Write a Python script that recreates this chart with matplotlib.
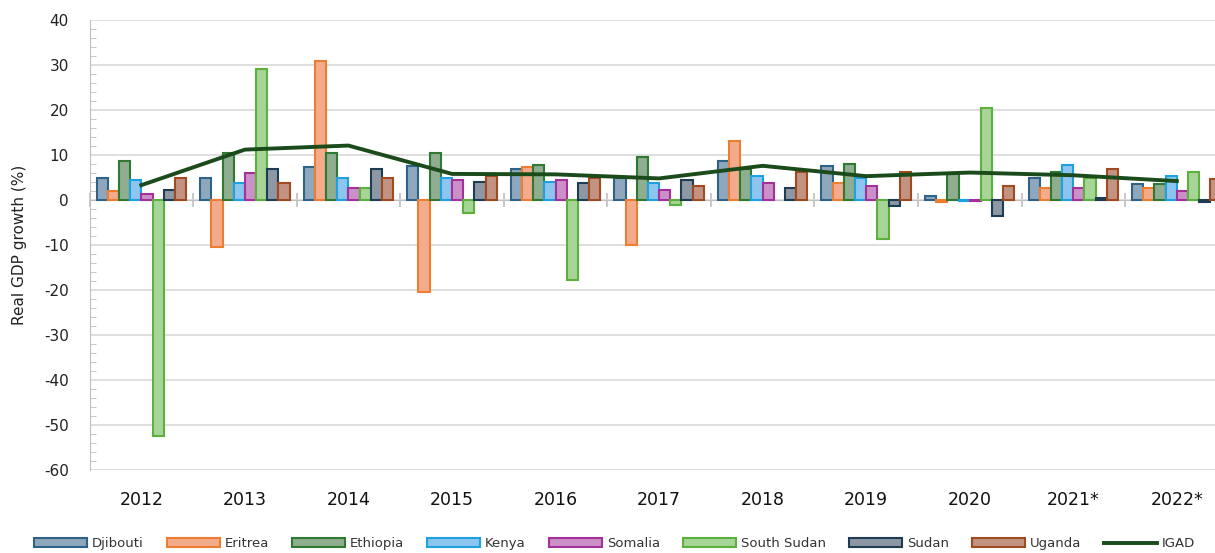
import matplotlib
matplotlib.use('Agg')
import matplotlib.pyplot as plt
import numpy as np

plt.rcParams['axes.unicode_minus'] = False

years = ['2012', '2013', '2014', '2015', '2016', '2017', '2018', '2019', '2020', '2021*', '2022*']
countries = ['Djibouti', 'Eritrea', 'Ethiopia', 'Kenya', 'Somalia', 'South Sudan', 'Sudan', 'Uganda']

djibouti = [4.8, 5.0, 7.3, 7.6, 6.8, 4.8, 8.7, 7.6, 1.0, 5.0, 3.6]
eritrea = [1.9, -10.5, 30.9, -20.4, 7.3, -10.1, 13.1, 3.7, -0.5, 2.7, 2.7]
ethiopia = [8.7, 10.4, 10.4, 10.4, 7.8, 9.5, 6.8, 8.1, 6.0, 6.3, 3.6]
kenya = [4.4, 3.7, 5.0, 5.0, 4.1, 3.7, 5.4, 4.8, -0.3, 7.8, 5.4]
somalia = [1.3, 5.9, 2.6, 4.4, 4.4, 2.2, 3.7, 3.1, -0.3, 2.7, 1.9]
south_sudan = [-52.4, 29.1, 2.6, -2.8, -17.8, -1.0, np.nan, -8.7, 20.4, 5.0, 6.3]
sudan = [2.2, 6.8, 6.8, 4.1, 3.7, 4.4, 2.6, -1.4, -3.6, 0.4, -0.5]
uganda = [5.0, 3.7, 5.0, 5.3, 5.0, 3.1, 6.3, 6.3, 3.1, 6.8, 4.6]
igad = [3.3, 11.2, 12.1, 5.8, 5.7, 4.8, 7.6, 5.3, 6.1, 5.5, 4.2]

series = [djibouti, eritrea, ethiopia, kenya, somalia, south_sudan, sudan, uganda]
fills = ['#8FA7BD', '#F4AB8C', '#8FAD8F', '#8CC6EE', '#CC90C8', '#A7D597', '#8D98A4', '#C39382']
edges = ['#2F6288', '#ED7D31', '#2E7A33', '#1FA0E0', '#A4309C', '#5CB03C', '#1F3C55', '#A24A1F']

fig = plt.figure(figsize=(12.15, 5.53), dpi=100)
ax = fig.add_axes([0.0737, 0.1501, 0.9375, 0.8137])

x = np.arange(len(years))
w = 0.108
handles = []
for j, (vals, fc, ec, name) in enumerate(zip(series, fills, edges, countries)):
    b = ax.bar(x + (j - 3.5) * w, vals, width=w, color=fc, edgecolor=ec, linewidth=1.5,
               label=name, zorder=3)
    handles.append(b)

ln, = ax.plot(x, igad, color='#1B4A1B', linewidth=2.8, label='IGAD', zorder=4)
handles.append(ln)

ax.set_xlim(-0.5, len(years) - 0.5)
ax.set_ylim(-60, 40)
ax.set_yticks(np.arange(-60, 41, 10))
ax.set_yticks(np.arange(-60, 41, 2), minor=True)
ax.yaxis.grid(True, which='major', color='#D9D9D9', linewidth=1.2, zorder=0)
ax.set_axisbelow(True)
ax.tick_params(axis='y', which='major', length=0, pad=15, labelsize=11, labelcolor='#222222')
ax.tick_params(axis='y', which='minor', length=4, direction='in', color='#BFBFBF')

for s in ['top', 'right']:
    ax.spines[s].set_visible(False)
ax.spines['left'].set_color('#BFBFBF')
ax.spines['bottom'].set_position(('data', 0))
ax.spines['bottom'].set_color('#BFBFBF')
ax.spines['bottom'].set_zorder(2)

ax.set_xticks(np.arange(len(years) + 1) - 0.5)
ax.set_xticklabels([])
ax.tick_params(axis='x', which='major', length=10, direction='inout', color='#BFBFBF', width=1.2)
for xi, lab in zip(x, years):
    ax.annotate(lab, xy=(xi, 0), xycoords=('data', 'axes fraction'),
                xytext=(0, -15), textcoords='offset points', ha='center', va='top',
                fontsize=12.5, color='#111111')

ax.set_ylabel('Real GDP growth (%)', fontsize=11, color='#222222', labelpad=12)

leg = fig.legend(handles=handles, labels=countries + ['IGAD'],
                 loc='center', bbox_to_anchor=(0.506, 0.017), ncol=9, frameon=False,
                 fontsize=9.5, handlelength=4.0, handleheight=0.68, handletextpad=0.38,
                 columnspacing=1.75)
for t in leg.get_texts():
    t.set_color('#333333')

fig.savefig('out.png', dpi=100)
